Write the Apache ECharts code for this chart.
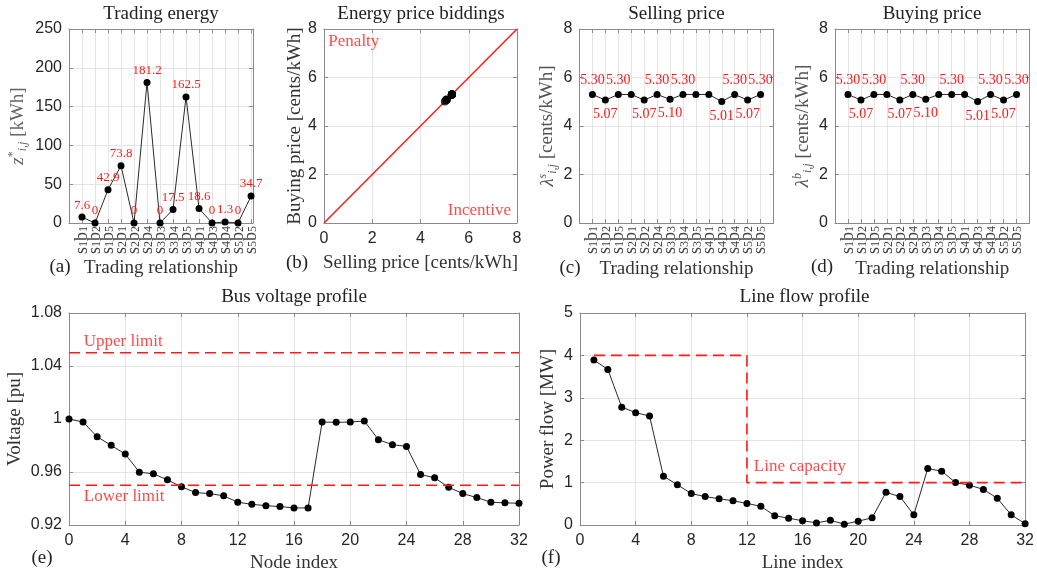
<!DOCTYPE html>
<html><head><meta charset="utf-8">
<script src="https://cdn.jsdelivr.net/npm/echarts@6/dist/echarts.min.js"></script>
<style>html,body{margin:0;padding:0;background:#fff}#c{width:1037px;height:576px}</style>
</head><body><div id="c"></div>
<script>
// ---------- DATA ----------
const tradeCats = ['s1b1','s1b2','s1b5','s2b1','s2b2','s2b4','s3b3','s3b4','s3b5','s4b1','s4b3','s4b4','s5b2','s5b5'];
const tradingEnergy = [7.6, 0, 42.9, 73.8, 0, 181.2, 0, 17.5, 162.5, 18.6, 0, 1.3, 0, 34.7];
const sellingPrice = [5.30, 5.07, 5.30, 5.30, 5.07, 5.30, 5.10, 5.30, 5.30, 5.30, 5.01, 5.30, 5.07, 5.30];
const buyingPrice  = [5.30, 5.07, 5.30, 5.30, 5.07, 5.30, 5.10, 5.30, 5.30, 5.30, 5.01, 5.30, 5.07, 5.30];
const sellingLabeled = [1,1,1,0,1,1,1,1,0,0,1,1,1,1];
const buyingLabeled  = [1,1,1,0,1,1,1,0,1,0,1,1,1,1];
const energyTicks = [0, 50, 100, 150, 200, 250];
const priceTicks = [0, 2, 4, 6, 8];
const busVoltage = [1.000, 0.9977, 0.9866, 0.9801, 0.9735, 0.9599, 0.9586, 0.9541, 0.9488, 0.9445, 0.9437,
  0.9420, 0.9372, 0.9356, 0.9346, 0.9339, 0.9329, 0.9329, 0.9977, 0.9975, 0.9977, 0.9985, 0.9844, 0.9806,
  0.9793, 0.9581, 0.9556, 0.9485, 0.9437, 0.9407, 0.9372, 0.9367, 0.9364];
const voltageTicks = [0.92, 0.96, 1.00, 1.04, 1.08];
const voltageUpper = 1.05;
const voltageLower = 0.95;
const lineFlow = [3.89, 3.67, 2.78, 2.65, 2.57, 1.15, 0.95, 0.74, 0.67, 0.62, 0.57, 0.51, 0.44, 0.22, 0.16, 0.10,
  0.05, 0.11, 0.02, 0.09, 0.17, 0.77, 0.67, 0.24, 1.33, 1.27, 1.00, 0.94, 0.84, 0.63, 0.24, 0.03];
const flowTicks = [0, 1, 2, 3, 4, 5];
const indexTicks = [0, 4, 8, 12, 16, 20, 24, 28, 32];
const lineCapacity = [{from: 1, to: 12, value: 4}, {from: 12, to: 32, value: 1}];

// ---------- STYLE ----------
const SERIF = '"Liberation Serif","Times New Roman",serif';
const SANS = '"Liberation Sans",Arial,sans-serif';
const AX = '#8a8a8a', GRIDC = '#e4e4e4', TXT = '#262626', RED = '#ff1a1a';

const grids = [
  {left: 69, top: 29, width: 184, height: 194},
  {left: 324, top: 29, width: 193, height: 194},
  {left: 579.5, top: 29, width: 194, height: 194},
  {left: 835, top: 29, width: 194.5, height: 194},
  {left: 69, top: 313, width: 450, height: 212},
  {left: 580, top: 313, width: 449, height: 212}
];

const tickLabelStyle = {fontFamily: SANS, fontSize: 16, color: TXT};
const nameStyle = (color) => ({fontFamily: SERIF, fontSize: 19, color: color || '#333'});

function catRich(c) { return `{m|${c[0]}}{s|${c[1]}}{m|${c[2]}}{s|${c[3]}}`; }
const catRichStyles = {
  m: {fontFamily: SERIF, fontSize: 18, color: '#444', lineHeight: 15},
  s: {fontFamily: SERIF, fontSize: 12, color: '#444', lineHeight: 9, verticalAlign: 'bottom'}
};

const xAxes = [], yAxes = [];
function addX(g, min, max, interval, extra) {
  xAxes.push(Object.assign({
    gridIndex: g, type: 'value', position: 'bottom', min, max, interval,
    axisLine: {show: true, onZero: false, lineStyle: {color: AX, width: 1}},
    axisTick: {show: true, inside: true, length: 4, lineStyle: {color: AX}},
    splitLine: {show: true, lineStyle: {color: GRIDC, width: 1}},
    axisLabel: Object.assign({margin: 8}, tickLabelStyle),
    nameLocation: 'middle', nameTextStyle: nameStyle()
  }, extra));
  xAxes.push({
    gridIndex: g, type: 'value', position: 'top', min, max, interval,
    axisLine: {show: true, onZero: false, lineStyle: {color: AX, width: 1}},
    axisTick: {show: true, inside: true, length: 4, lineStyle: {color: AX}},
    splitLine: {show: false}, axisLabel: {show: false}
  });
}
function addY(g, ticks, extra) {
  const min = ticks[0], max = ticks[ticks.length - 1], interval = ticks[1] - ticks[0];
  yAxes.push(Object.assign({
    gridIndex: g, type: 'value', position: 'left', min, max, interval,
    axisLine: {show: true, onZero: false, lineStyle: {color: AX, width: 1}},
    axisTick: {show: true, inside: true, length: 4, lineStyle: {color: AX}},
    splitLine: {show: true, lineStyle: {color: GRIDC, width: 1}},
    axisLabel: Object.assign({margin: 7, formatter: v => String(parseFloat(v.toFixed(2)))}, tickLabelStyle),
    nameLocation: 'middle', nameTextStyle: nameStyle()
  }, extra));
  yAxes.push({
    gridIndex: g, type: 'value', position: 'right', min, max, interval,
    axisLine: {show: true, onZero: false, lineStyle: {color: AX, width: 1}},
    axisTick: {show: true, inside: true, length: 4, lineStyle: {color: AX}},
    splitLine: {show: false}, axisLabel: {show: false}
  });
}
const catFormatter = v => (Math.abs(v - Math.round(v)) < 1e-6 && v >= 1 && v <= tradeCats.length) ? catRich(tradeCats[Math.round(v) - 1]) : '';
const catLabel = {rotate: 90, margin: 3, formatter: catFormatter, rich: catRichStyles};

// (a)
addX(0, 0, 14.15, 1, {axisLabel: catLabel, name: 'Trading relationship', nameGap: 36});
addY(0, energyTicks, {name: '{i|z}{sup|*}{sub|i,j}{n| [kWh]}', nameGap: 40,
  nameTextStyle: {rich: {
    i: {fontFamily: SERIF, fontStyle: 'italic', fontSize: 19, color: '#666', lineHeight: 22},
    sup: {fontFamily: SERIF, fontSize: 12, color: '#666', lineHeight: 12, verticalAlign: 'top'},
    sub: {fontFamily: SERIF, fontStyle: 'italic', fontSize: 12, color: '#666', lineHeight: 12, verticalAlign: 'bottom'},
    n: {fontFamily: SERIF, fontSize: 19, color: '#666', lineHeight: 22}
  }}});
// (b)
addX(1, priceTicks[0], priceTicks[priceTicks.length - 1], priceTicks[1] - priceTicks[0], {name: 'Selling price [cents/kWh]', nameGap: 31});
addY(1, priceTicks, {name: 'Buying price [cents/kWh]', nameGap: 19});
// (c), (d)
function lamName(sup) { return `{i|λ}{sup|${sup}}{sub|i,j}{n| [cents/kWh]}`; }
const lamRich = {
  i: {fontFamily: SERIF, fontStyle: 'italic', fontSize: 19, color: '#555', lineHeight: 22},
  sup: {fontFamily: SERIF, fontStyle: 'italic', fontSize: 12, color: '#555', lineHeight: 12, verticalAlign: 'top'},
  sub: {fontFamily: SERIF, fontStyle: 'italic', fontSize: 12, color: '#555', lineHeight: 12, verticalAlign: 'bottom'},
  n: {fontFamily: SERIF, fontSize: 19, color: '#555', lineHeight: 22}
};
addX(2, 0, 15, 1, {axisLabel: catLabel, name: 'Trading relationship', nameGap: 37});
addY(2, priceTicks, {name: lamName('s'), nameGap: 21, nameTextStyle: {rich: lamRich}});
addX(3, 0, 15, 1, {axisLabel: catLabel, name: 'Trading relationship', nameGap: 37});
addY(3, priceTicks, {name: lamName('b'), nameGap: 21, nameTextStyle: {rich: lamRich}});
// (e)
addX(4, indexTicks[0], indexTicks[indexTicks.length - 1], indexTicks[1] - indexTicks[0], {name: 'Node index', nameGap: 29});
addY(4, voltageTicks, {name: 'Voltage [pu]', nameGap: 44});
// (f)
addX(5, indexTicks[0], indexTicks[indexTicks.length - 1], indexTicks[1] - indexTicks[0], {name: 'Line index', nameGap: 29});
addY(5, flowTicks, {name: 'Power flow [MW]', nameGap: 22});

const ax = g => ({xAxisIndex: 2 * g, yAxisIndex: 2 * g});
const dotLine = {type: 'line', symbol: 'circle', symbolSize: 7, itemStyle: {color: '#000'},
  lineStyle: {color: '#2a2a2a', width: 1}, z: 3, silent: true};
function annot(g, pt, text, pos) {
  return Object.assign({type: 'scatter', symbolSize: 0, data: [pt], silent: true, z: 5,
    label: {show: true, position: pos, distance: 0, formatter: text, color: RED, fontFamily: SERIF, fontSize: 17}}, ax(g));
}
function dashed(g, pts) {
  return Object.assign({type: 'line', data: pts, symbol: 'none', silent: true, z: 4,
    lineStyle: {color: RED, width: 1.6, type: [11, 6]}}, ax(g));
}
function priceSeries(g, vals, flags) {
  return Object.assign({}, dotLine, ax(g), {
    data: vals.map((v, i) => ({value: [i + 1, v],
      label: {show: !!flags[i], position: v >= 5.2 ? 'top' : 'bottom', distance: 4}})),
    label: {color: RED, fontFamily: SERIF, fontSize: 14, formatter: p => p.value[1].toFixed(2)}
  });
}

const pMin = priceTicks[0], pMax = priceTicks[priceTicks.length - 1];
const xMinIdx = indexTicks[0], xMaxIdx = indexTicks[indexTicks.length - 1];
const capPts = [];
lineCapacity.forEach(s => { capPts.push([s.from, s.value]); capPts.push([s.to, s.value]); });

const series = [
  Object.assign({}, dotLine, ax(0), {
    data: tradingEnergy.map((v, i) => [i + 1, v]),
    label: {show: true, position: 'top', distance: 2, color: RED, fontFamily: SERIF, fontSize: 13, formatter: p => String(p.value[1])}
  }),
  Object.assign({type: 'line', data: [[pMin, pMin], [pMax, pMax]], symbol: 'none', silent: true,
    lineStyle: {color: RED, width: 1.5}}, ax(1)),
  Object.assign({type: 'scatter', data: sellingPrice.map((s, i) => [s, buyingPrice[i]]), symbolSize: 8,
    itemStyle: {color: '#000'}, silent: true, z: 4}, ax(1)),
  annot(1, [0.18, 7.5], 'Penalty', 'right'),
  annot(1, [7.75, 0.5], 'Incentive', 'left'),
  priceSeries(2, sellingPrice, sellingLabeled),
  priceSeries(3, buyingPrice, buyingLabeled),
  dashed(4, [[xMinIdx, voltageUpper], [xMaxIdx, voltageUpper]]),
  dashed(4, [[xMinIdx, voltageLower], [xMaxIdx, voltageLower]]),
  Object.assign({}, dotLine, ax(4), {data: busVoltage.map((v, i) => [i, v])}),
  annot(4, [1.05, 1.0585], 'Upper limit', 'right'),
  annot(4, [1.05, 0.9412], 'Lower limit', 'right'),
  dashed(5, capPts),
  Object.assign({}, dotLine, ax(5), {data: lineFlow.map((v, i) => [i + 1, v])}),
  annot(5, [12.5, 1.37], 'Line capacity', 'right')
];

function txt(x, y, text, size, color) {
  return {type: 'text', x, y, silent: true, style: {text, fill: color || '#222', font: `${size || 19}px ${SERIF}`,
    textAlign: 'center', textVerticalAlign: 'middle', align: 'center', verticalAlign: 'middle'}};
}
const graphics = [
  txt(161, 14, 'Trading energy'), txt(421, 14, 'Energy price biddings'),
  txt(676.5, 14, 'Selling price'), txt(932, 14, 'Buying price'),
  txt(294, 297, 'Bus voltage profile'), txt(804.5, 297, 'Line flow profile'),
  txt(60, 267, '(a)'), txt(297, 263, '(b)'), txt(570, 268, '(c)'), txt(822, 267, '(d)'),
  txt(42, 558, '(e)'), txt(551, 558, '(f)')
];

const chart = echarts.init(document.getElementById('c'), null, {renderer: 'canvas'});
chart.setOption({
  animation: false,
  backgroundColor: '#fff',
  grid: grids.map(g => Object.assign({containLabel: false}, g)),
  xAxis: xAxes, yAxis: yAxes, series, graphic: graphics
});
</script></body></html>
